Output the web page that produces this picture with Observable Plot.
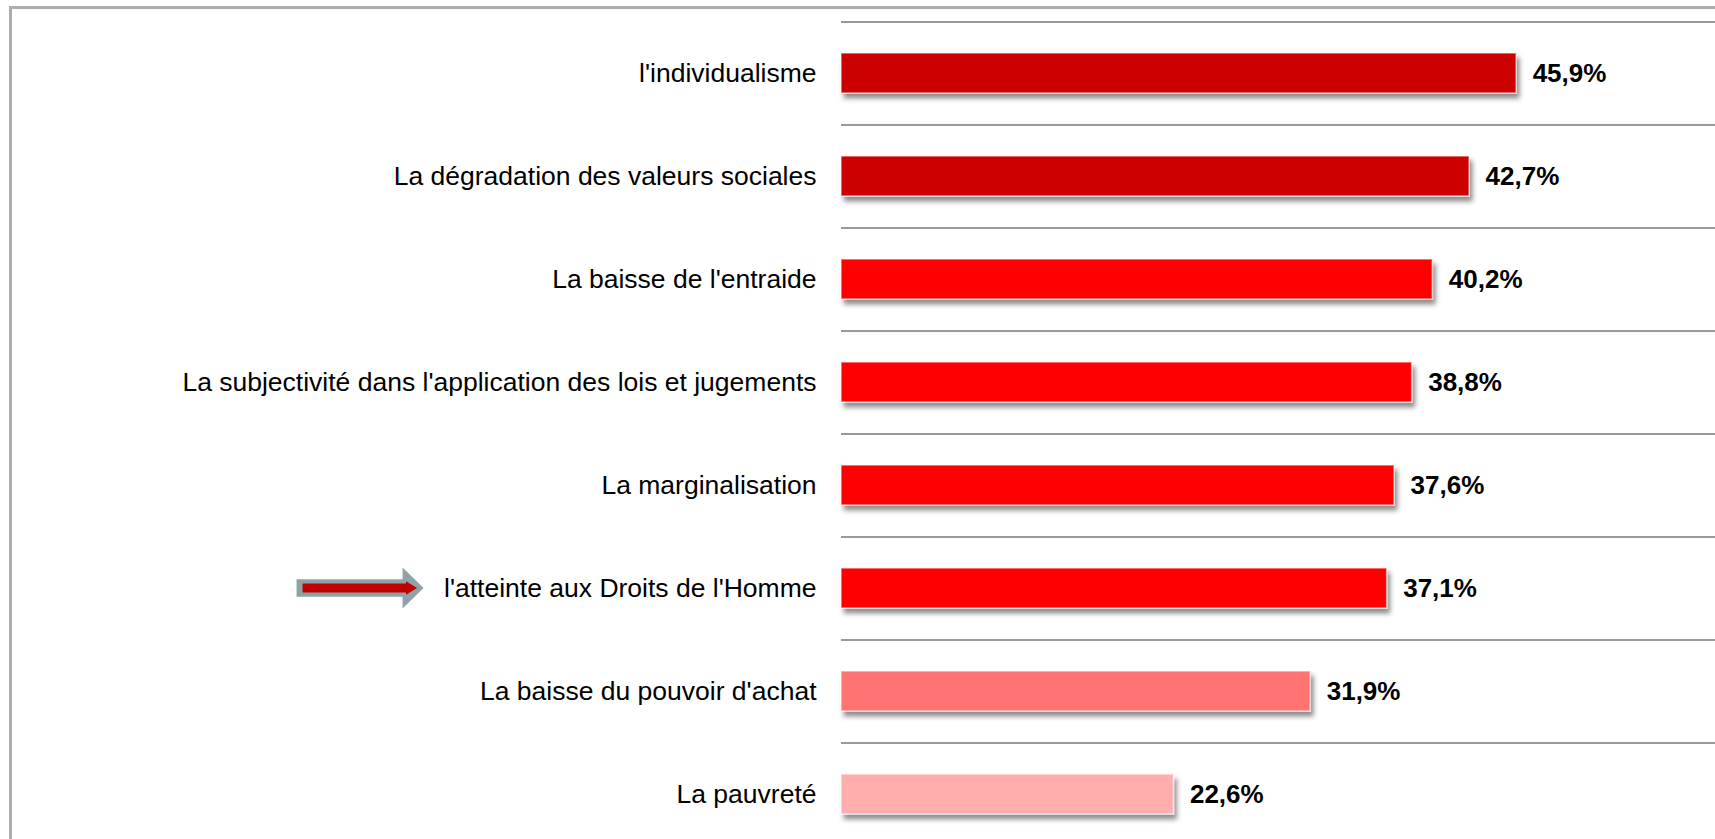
<!DOCTYPE html>
<html>
<head>
<meta charset="utf-8">
<script src="https://cdn.jsdelivr.net/npm/d3@7"></script>
<script src="https://cdn.jsdelivr.net/npm/@observablehq/plot@0.6"></script>
<style>
  html, body { margin: 0; padding: 0; background: #fff; overflow: hidden; }
  #wrap { position: relative; width: 1715px; height: 839px; overflow: hidden; background: #fff; }
  #frame { position: absolute; left: 9px; top: 6px; width: 2000px; height: 2000px; border: 3px solid #adadad; box-sizing: border-box; pointer-events: none; }
  #chart { position: absolute; left: 0; top: 0; }
</style>
</head>
<body>
<div id="wrap">
  <div id="frame"></div>
  <div id="chart"></div>
</div>
<script>
// ---- Data ----
const categories = [
  "l'individualisme",
  "La dégradation des valeurs sociales",
  "La baisse de l'entraide",
  "La subjectivité dans l'application des lois et jugements",
  "La marginalisation",
  "l'atteinte aux Droits de l'Homme",
  "La baisse du pouvoir d'achat",
  "La pauvreté"
];
const values = [45.9, 42.7, 40.2, 38.8, 37.6, 37.1, 31.9, 22.6];
const barColors = ["#CC0000", "#CC0000", "#FF0606", "#FF0606", "#FF0606", "#FF0606", "#FF7373", "#FFADAD"];
const valueLabels = ["45,9%", "42,7%", "40,2%", "38,8%", "37,6%", "37,1%", "31,9%", "22,6%"];
const highlightedIndex = 5; // "l'atteinte aux Droits de l'Homme"

const data = categories.map((c, i) => ({category: c, value: values[i], color: barColors[i], label: valueLabels[i]}));

// ---- Layout ----
const W = 1715, H = 846, mL = 841, mT = 22, mB = 0;
const step = (H - mT - mB) / categories.length;
const labelFont = "'Liberation Sans', Arial, sans-serif";
const labelSize = 26.5;
const labelGap = 25;

const chart = Plot.plot({
  width: W,
  height: H,
  marginLeft: mL,
  marginRight: 0,
  marginTop: mT,
  marginBottom: mB,
  style: {fontFamily: labelFont, background: "transparent", overflow: "visible"},
  x: {domain: [0, 59.42], axis: null},
  y: {domain: categories, paddingInner: 0.61, paddingOuter: 0.305, axis: null},
  marks: [
    Plot.ruleY(categories, {y: d => d, dy: -step / 2, stroke: "#9a9a9a", strokeWidth: 2}),
    Plot.barX(data, {y: "category", x: "value", fill: "color", stroke: "#ffffff", strokeOpacity: 0.55, strokeWidth: 1.5}),
    Plot.text(data, {y: "category", x: "value", text: "label", textAnchor: "start", dx: 16, fontWeight: "bold", fontSize: 26, fill: "#000"}),
    Plot.text(categories, {y: d => d, x: () => 0, text: d => d, textAnchor: "end", dx: -labelGap, fontSize: labelSize, fill: "#000"})
  ]
});

document.getElementById("chart").appendChild(chart);

// ---- Drop shadow on bars ----
const NS = "http://www.w3.org/2000/svg";
const defs = document.createElementNS(NS, "defs");
defs.innerHTML = '<filter id="barShadow" x="-10%" y="-30%" width="130%" height="180%"><feDropShadow dx="3" dy="5" stdDeviation="2.5" flood-color="#000" flood-opacity="0.45"/></filter>';
chart.insertBefore(defs, chart.firstChild);
chart.querySelectorAll('g[aria-label="bar"]').forEach(g => g.setAttribute("filter", "url(#barShadow)"));

// ---- Arrow pointing at the highlighted label ----
(function () {
  const rects = chart.querySelectorAll('g[aria-label="bar"] rect');
  const r = rects[highlightedIndex];
  const y0 = parseFloat(r.getAttribute("y")), h = parseFloat(r.getAttribute("height"));
  const x0 = parseFloat(r.getAttribute("x"));
  const cy = y0 + h / 2;
  const ctx = document.createElement("canvas").getContext("2d");
  ctx.font = `${labelSize}px ${labelFont}`;
  const tw = ctx.measureText(categories[highlightedIndex]).width;
  const tipX = x0 - labelGap - tw - 20;
  const outer = [[-127, -8.7], [-21, -8.7], [-21, -20.5], [0, 0], [-21, 20.5], [-21, 8.7], [-127, 8.7]];
  const inner = [[-121, -4.4], [-17.5, -4.4], [-17.5, -6.8], [-6.5, 0], [-17.5, 6.8], [-17.5, 4.4], [-121, 4.4]];
  const g = document.createElementNS(NS, "g");
  g.setAttribute("transform", `translate(${tipX},${cy})`);
  for (const [pts, fill] of [[outer, "#8FA3A6"], [inner, "#C00000"]]) {
    const p = document.createElementNS(NS, "polygon");
    p.setAttribute("points", pts.map(q => q.join(",")).join(" "));
    p.setAttribute("fill", fill);
    g.appendChild(p);
  }
  chart.appendChild(g);
})();
</script>
</body>
</html>
